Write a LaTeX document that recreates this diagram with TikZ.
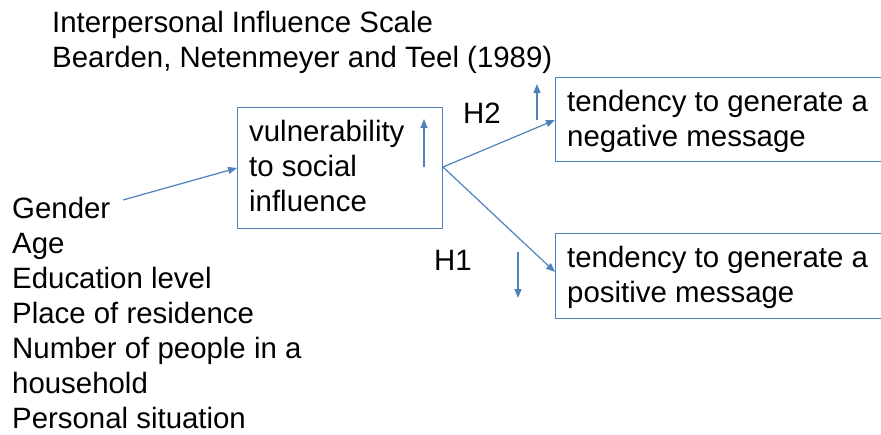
\documentclass[tikz,border=0pt]{standalone}
\usepackage{fontspec}
\setmainfont{Liberation Sans}
\usetikzlibrary{arrows.meta}
\definecolor{lnblue}{RGB}{79,129,189}
\tikzset{
  txt/.style={font=\fontsize{29.4}{35}\selectfont, inner sep=0pt, align=left, text=black, anchor=base west},
  box/.style={draw=lnblue, line width=1.2pt, inner sep=0pt, anchor=north west},
  conn/.style={draw=lnblue, line width=1.2pt, -{Triangle[length=9pt,width=7pt]}}
}
\begin{document}
\begin{tikzpicture}[x=1pt,y=-1pt]
\useasboundingbox (0,0) rectangle (881,434);
% base anchor of a multi-line node = baseline of its last line
\node[txt] (scale) at (52,67.5) {Interpersonal Influence Scale\\Bearden, Netenmeyer and Teel (1989)};
\node[box, minimum width=205, minimum height=121] (vul) at (237,107) {};
\node[txt] (vult) at (249,211) {vulnerability\\to social\\influence};
\node[box, minimum width=330, minimum height=84] (neg) at (555,77) {};
\node[txt] (negt) at (567,146.5) {tendency to generate a\\negative message};
\node[box, minimum width=330, minimum height=85] (pos) at (555,233) {};
\node[txt] (post) at (567,302) {tendency to generate a\\positive message};
\node[txt] (vars) at (12,428.5) {Gender\\Age\\Education level\\Place of residence\\Number of people in a\\household\\Personal situation};
\node[txt, anchor=center] (h2) at (482,113) {H2};
\node[txt, anchor=center] (h1) at (453,260) {H1};
\coordinate (gstart) at (123,200);
\coordinate (vout) at (443,167);
\draw[conn] (gstart) -- (vul.west |- 0,168);
\draw[conn] (vout) -- (neg.west |- 0,120);
\draw[conn] (vout) -- (pos.west |- 0,272);
\coordinate (u1a) at (424,167); \coordinate (u1b) at (424,119);
\coordinate (u2a) at (537,120); \coordinate (u2b) at (537,84);
\coordinate (d1a) at (518,252); \coordinate (d1b) at (518,298);
\draw[conn] (u1a) -- (u1b);
\draw[conn] (u2a) -- (u2b);
\draw[conn] (d1a) -- (d1b);
\end{tikzpicture}
\end{document}
